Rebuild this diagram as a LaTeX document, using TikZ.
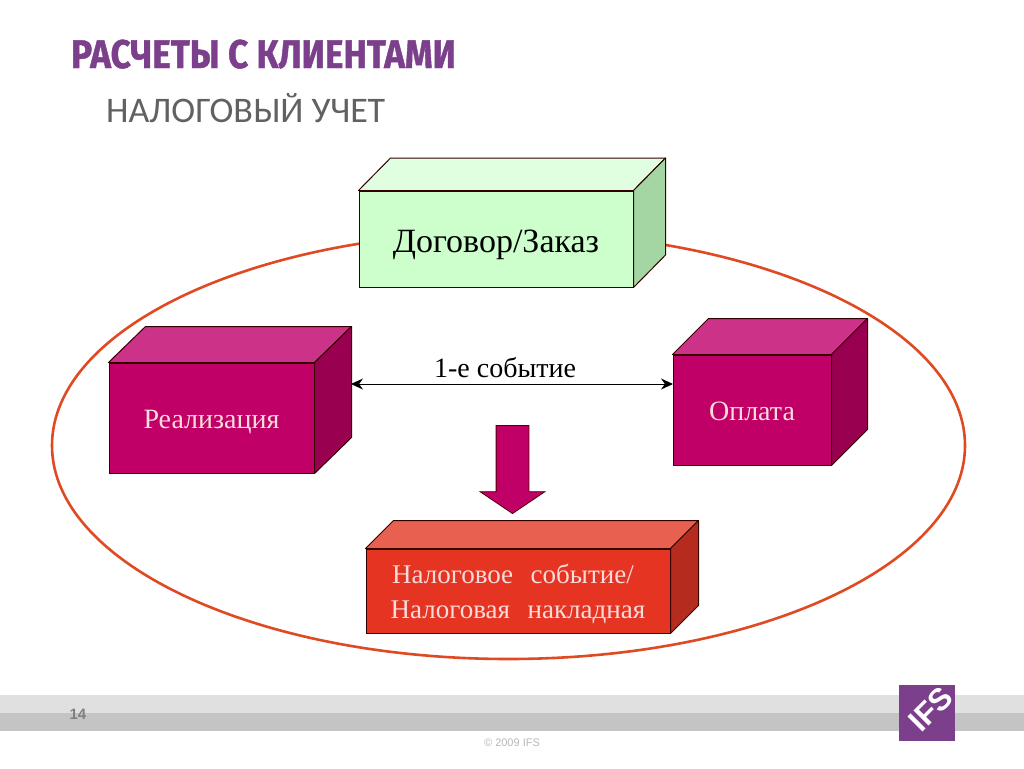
\documentclass[tikz,border=0pt]{standalone}
\usepackage{fontspec}
\setmainfont{Liberation Serif}
\newfontfamily\titlefont[BoldFeatures={FakeBold=1.2}]{Fira Sans}
\newfontfamily\subfont{Carlito}
\newfontfamily\footfont{Liberation Sans}
\usetikzlibrary{positioning, arrows.meta, shapes.arrows, shapes.geometric}
\definecolor{ifspurple}{HTML}{7B3F8C}
\definecolor{ovalred}{HTML}{E04A22}
\definecolor{mag}{HTML}{C00066}
\definecolor{magtop}{HTML}{CC3388}
\definecolor{magside}{HTML}{99004F}
\definecolor{grn}{HTML}{CCFFCC}
\definecolor{grntop}{HTML}{E0FFE0}
\definecolor{grnside}{HTML}{A3D6A3}
\definecolor{rd}{HTML}{E63422}
\definecolor{rdtop}{HTML}{E8604F}
\definecolor{rdside}{HTML}{B52C1E}
\definecolor{boxtext}{HTML}{F8DCDC}
\newcommand{\boxfaces}[5]{%
  \draw[face, fill=#4] (#1.north west) -- ([shift={(#2,-#3)}]#1.north west) -- ([shift={(#2,-#3)}]#1.north east) -- (#1.north east) -- cycle;
  \draw[face, fill=#5] (#1.north east) -- ([shift={(#2,-#3)}]#1.north east) -- ([shift={(#2,-#3)}]#1.south east) -- (#1.south east) -- cycle;
}
\begin{document}
\begin{tikzpicture}[
  x=1pt, y=-1pt,
  front/.style={draw=black!80!red, line width=1pt, rectangle, inner sep=0pt, align=center, text depth=0pt},
  face/.style={draw=black!80!red, line width=1pt, line join=round},
  dbl/.style={{Stealth[length=12pt,width=11pt]}-{Stealth[length=12pt,width=11pt]}, line width=0.9pt},
  evtxt/.style={font=\fontsize{28}{30}\selectfont, inner sep=0pt}
]
  \useasboundingbox (0,0) rectangle (1024,768);
  \fill[white] (0,0) rectangle (1024,768);
  \fill[black!12] (0,695) rectangle (1024,713);
  \fill[black!23] (0,713) rectangle (1024,731);
  \node[font=\titlefont\bfseries\fontsize{40}{44}\selectfont, text=ifspurple, anchor=base west, inner sep=0pt, xscale=0.88] (title) at (71,68) {РАСЧЕТЫ С КЛИЕНТАМИ};
  \node[font=\subfont\fontsize{36}{40}\selectfont, text=black!62, anchor=base west, inner sep=0pt] (subtitle) at (106,122) {НАЛОГОВЫЙ УЧЕТ};
  \node[draw=ovalred, line width=2.6pt, ellipse, minimum width=913pt, minimum height=427pt, inner sep=0pt] (oval) at (508.5,445.5) {};
  \node[front, fill=grn, minimum width=274pt, minimum height=96pt, text height=26pt, font=\fontsize{34}{40}\selectfont] (dog) at (496,239) {Договор/Заказ};
  \boxfaces{dog}{32}{32.5}{grntop}{grnside}
  \node[front, fill=mag, text=boxtext, minimum width=205pt, minimum height=110pt, text height=20pt, font=\fontsize{28}{30}\selectfont] (real) at (211.5,418) {Реализация};
  \boxfaces{real}{37}{36}{magtop}{magside}
  \node[front, fill=mag, text=boxtext, minimum width=158pt, minimum height=110pt, text height=20pt, font=\fontsize{28}{30}\selectfont] (opl) at (752,410) {Оплата};
  \boxfaces{opl}{36}{36}{magtop}{magside}
  \node[front, fill=rd, text=boxtext, minimum width=304pt, minimum height=84pt, text height=54pt, font=\fontsize{27}{35}\selectfont] (nal) at (518,591) {Налоговое\hspace{0.4em} событие/\hspace*{10pt}\\Налоговая\hspace{0.4em} накладная};
  \boxfaces{nal}{28}{28}{rdtop}{rdside}
  \node[single arrow, draw=black!70!red, line width=0.8pt, fill=mag, shape border rotate=270, inner sep=16pt, minimum height=88pt, single arrow head extend=16pt, single arrow tip angle=112] (down) at (512.5,464) {};
  \coordinate (evl) at (351,384);
  \coordinate (evr) at (673,384);
  \draw[dbl] (evl) -- (evr);
  \node[evtxt] (ev) at (505,368) {1-е событие};
  \node[fill=ifspurple, minimum size=56pt, inner sep=0pt] (logo) at (927,713) {};
  \node[font=\footfont\bfseries\fontsize{31}{31}\selectfont, text=white, rotate=45, inner sep=0pt] (ifs) at (931,709) {IFS};
  \node[font=\footfont\bfseries\fontsize{15}{15}\selectfont, text=black!50, inner sep=0pt] (page) at (78,714) {14};
  \node[font=\footfont\fontsize{11}{11}\selectfont, text=black!28, inner sep=0pt] (copy) at (512,743) {© 2009 IFS};
\end{tikzpicture}
\end{document}
